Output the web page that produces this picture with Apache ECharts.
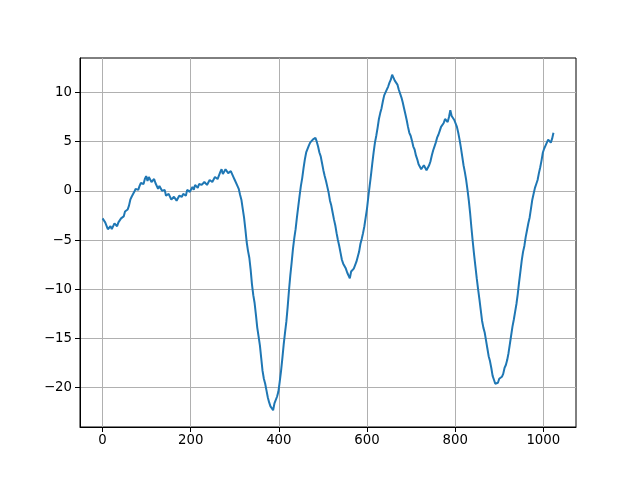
<!DOCTYPE html>
<html><head><meta charset="utf-8">
<script src="https://cdn.jsdelivr.net/npm/echarts@6/dist/echarts.min.js"></script>
<style>html,body{margin:0;padding:0;background:#fff}#c{width:640px;height:480px}</style>
</head><body><div id="c"></div>
<script>
const xValues = [0,3,6,9,12,15,18,21,24,27,30,33,36,39,42,45,48,51,54,57,60,63,66,69,72,75,78,81,84,87,90,93,96,99,
102,105,108,111,114,117,120,123,126,129,132,135,138,141,144,147,150,153,156,159,162,165,168,171,174,177,180,183,186,189,192,195,198,
201,204,207,210,213,216,219,222,225,228,231,234,237,240,243,246,249,252,255,258,261,264,267,270,273,276,279,282,285,288,291,294,297,
300,303,306,309,312,315,318,321,324,327,330,333,336,339,342,345,348,351,354,357,360,363,366,369,372,375,378,381,384,387,390,393,396,399,
402,405,408,411,414,417,420,423,426,429,432,435,438,441,444,447,450,453,456,459,462,465,468,471,474,477,480,483,486,489,492,495,498,
501,504,507,510,513,516,519,522,525,528,531,534,537,540,543,546,549,552,555,558,561,564,567,570,573,576,579,582,585,588,591,594,597,
600,603,606,609,612,615,618,621,624,627,630,633,636,639,642,645,648,651,654,657,660,663,666,669,672,675,678,681,684,687,690,693,696,699,
702,705,708,711,714,717,720,723,726,729,732,735,738,741,744,747,750,753,756,759,762,765,768,771,774,777,780,783,786,789,792,795,798,
801,804,807,810,813,816,819,822,825,828,831,834,837,840,843,846,849,852,855,858,861,864,867,870,873,876,879,882,885,888,891,894,897,
900,903,906,909,912,915,918,921,924,927,930,933,936,939,942,945,948,951,954,957,960,963,966,969,972,975,978,981,984,987,990,993,996,999,
1002,1005,1008,1011,1014,1017,1020,1023];
const yValues = [-2.8,-2.6,-3.2,-3.4,-3.9,-4.1,-3.6,-3.9,-3.7,-3.3,-3.3,-3.6,-3.2,-3.0,-2.8,-2.9,-2.6,-2.1,-1.9,-1.9,-1.5,-0.9,-0.6,-0.5,-0.1,0.2,0.3,0.1,0.5,0.8,0.9,0.7,1.2,1.5,
1.0,1.4,1.3,0.9,0.9,1.2,0.8,0.6,0.2,0.5,0.3,0.0,-0.2,0.1,-0.5,-0.6,-0.3,-0.5,-0.9,-1.0,-0.6,-0.4,-1.0,-0.8,-0.5,-0.7,-0.6,-0.3,-0.2,-0.5,0.1,0.2,-0.1,
0.0,0.4,0.1,0.6,0.4,0.3,0.7,0.9,0.6,0.5,0.9,1.0,0.6,0.7,1.1,1.3,0.9,1.1,1.4,1.5,1.2,1.4,1.9,2.2,1.7,1.8,2.2,2.1,1.8,1.7,2.0,1.8,1.4,
1.1,0.9,0.5,0.2,-0.4,-0.9,-1.8,-2.7,-3.9,-5.2,-6.1,-6.8,-8.0,-9.5,-10.6,-11.4,-12.6,-13.9,-14.8,-15.7,-17.0,-18.3,-19.1,-19.6,-20.3,-21.0,-21.5,-21.9,-22.0,-22.3,-21.6,-21.4,-20.9,-20.4,
-19.4,-18.3,-17.0,-15.6,-14.4,-13.3,-11.8,-10.1,-8.6,-7.3,-5.9,-4.8,-3.9,-2.7,-1.6,-0.5,0.5,1.3,2.3,3.2,3.9,4.1,4.6,4.9,4.9,5.2,5.1,5.4,5.0,4.5,3.9,3.5,2.8,
2.1,1.5,1.0,0.4,-0.2,-1.0,-1.5,-2.2,-2.9,-3.5,-4.3,-5.0,-5.6,-6.3,-7.0,-7.4,-7.6,-7.9,-8.3,-8.5,-8.9,-8.2,-8.3,-7.9,-7.7,-7.2,-6.7,-6.2,-5.4,-4.9,-4.3,-3.6,-2.7,
-1.8,-0.6,0.5,1.6,2.8,3.9,4.9,5.6,6.4,7.3,7.9,8.4,9.1,9.7,10.0,10.2,10.6,11.0,11.3,11.8,11.5,11.2,11.0,10.8,10.3,10.1,9.5,9.0,8.4,7.8,7.2,6.5,5.9,5.6,
5.1,4.5,4.2,3.6,3.2,2.7,2.5,2.2,2.3,2.6,2.4,2.1,2.2,2.6,3.0,3.6,4.1,4.5,4.9,5.4,5.7,6.1,6.5,6.6,6.9,7.3,7.3,7.0,7.5,8.2,7.6,7.6,7.2,
7.0,6.5,5.9,5.2,4.4,3.5,2.6,1.9,1.1,0.1,-1.0,-2.3,-3.8,-5.2,-6.5,-7.7,-8.9,-10.0,-11.0,-12.1,-13.2,-13.9,-14.4,-15.2,-16.0,-16.8,-17.3,-18.0,-18.8,-19.2,-19.6,-19.4,-19.5,
-19.1,-19.3,-18.9,-18.6,-18.0,-17.7,-17.2,-16.5,-15.6,-14.7,-13.8,-13.1,-12.3,-11.5,-10.5,-9.3,-8.2,-7.1,-6.2,-5.6,-4.7,-4.0,-3.3,-2.7,-1.8,-0.9,-0.3,0.3,0.7,1.1,1.8,2.4,3.1,3.9,
4.3,4.6,4.7,5.2,5.2,4.9,5.3,5.9];
const xTicks = [0,200,400,600,800,1000];
const yTicks = [-20,-15,-10,-5,0,5,10];

const chart = echarts.init(document.getElementById('c'), null, {renderer:'canvas'});
const fmt = v => String(v).replace('-', '\u2212');
const font = {fontFamily:'DejaVu Sans', fontSize:13.3, color:'#000', formatter:fmt};
chart.setOption({
  animation:false,
  grid:{left:80, right:64, top:58, bottom:53, show:true, borderColor:'#000', borderWidth:1, backgroundColor:'transparent'},
  xAxis:{type:'value', min:-51.15, max:1074.15,
    axisLine:{show:true, onZero:false, lineStyle:{color:'#000', width:1}},
    axisTick:{show:true, customValues:xTicks, length:5, lineStyle:{color:'#000', width:1}},
    axisLabel:{customValues:xTicks, margin:7, ...font},
    splitLine:{show:true, lineStyle:{color:'#b0b0b0', width:1}}},
  yAxis:{type:'value', min:-24.0, max:13.5,
    axisLine:{show:true, onZero:false, lineStyle:{color:'#000', width:1}},
    axisTick:{show:true, customValues:yTicks, length:5, lineStyle:{color:'#000', width:1}},
    axisLabel:{customValues:yTicks, margin:8, ...font},
    splitLine:{show:true, lineStyle:{color:'#b0b0b0', width:1}}},
  series:[{type:'line', data:xValues.map((x,i)=>[x,yValues[i]]), showSymbol:false, symbol:'none',
    lineStyle:{color:'#1f77b4', width:2}, itemStyle:{color:'#1f77b4'}}]
});
</script></body></html>
